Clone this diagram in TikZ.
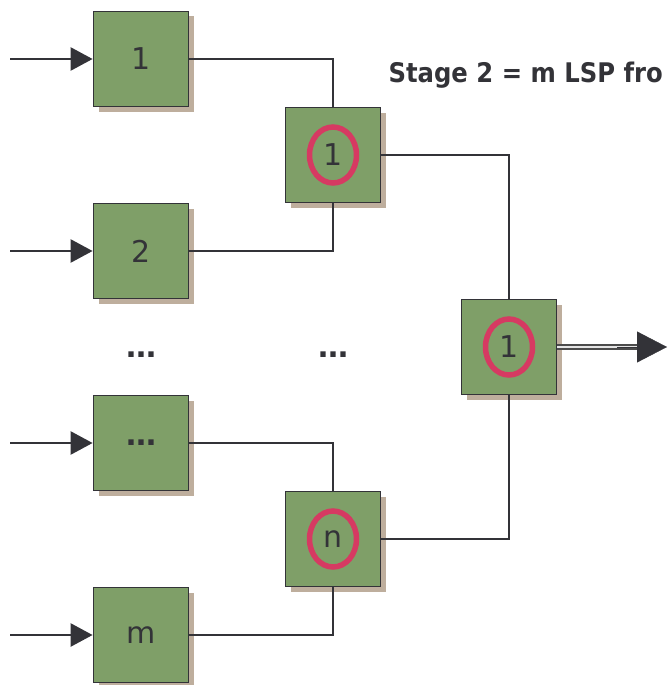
\documentclass[tikz,border=0pt]{standalone}
\usepackage{fontspec}
\setmainfont{DejaVu Sans}
\newfontfamily\titlefont[FakeStretch=0.9]{DejaVu Sans}
\usetikzlibrary{arrows.meta,shapes.geometric,shadows}
\definecolor{boxGreen}{RGB}{127,159,104}
\definecolor{shadowTan}{RGB}{190,174,157}
\definecolor{lineGray}{RGB}{51,51,56}
\definecolor{ringRed}{RGB}{214,58,98}
\tikzset{
  lsp/.style={draw=lineGray,line width=1.8pt,fill=boxGreen,minimum size=95pt,inner sep=0pt,
    text=lineGray,font=\fontsize{30pt}{32pt}\selectfont,
    drop shadow={shadow xshift=5pt,shadow yshift=-5pt,fill=shadowTan,opacity=1}},
  ring/.style={ellipse,draw=ringRed,line width=5.5pt,minimum width=47pt,minimum height=56pt,
    inner sep=0pt,text=lineGray,font=\fontsize{30pt}{32pt}\selectfont},
  wire/.style={draw=lineGray,line width=1.5pt},
  feed/.style={draw=lineGray,line width=2.6pt,-{Triangle[length=22pt,width=23pt]}},
  gap/.style={text=lineGray,font=\bfseries\fontsize{30pt}{32pt}\selectfont}
}
\begin{document}
\begin{tikzpicture}[x=1pt,y=-1pt]
  \useasboundingbox (0,0) rectangle (667,685);
  % stage 1
  \node[lsp] (in1) at (141,59) {1};
  \node[lsp] (in2) at (141,251) {2};
  \node[lsp] (in3) at (141,443) {\bfseries …};
  \node[lsp] (in4) at (141,635) {m};
  \foreach \i/\y in {1/59,2/251,3/443,4/635} {
    \coordinate (src\i) at (10,\y);
    \draw[feed] (src\i) -- (in\i.west);
  }
  % stage 2
  \node[lsp] (mid1) at (333,155) {};
  \node[lsp] (midn) at (333,539) {};
  \node[lsp] (last) at (509,347) {};
  \node[ring] (ring1) at (mid1) {1};
  \node[ring] (ringn) at (midn) {n};
  \node[ring] (ringl) at (last) {1};
  \node[gap] (gapl) at (141,355) {…};
  \node[gap] (gapm) at (333,355) {…};
  \draw[wire] (in1.east) -| (mid1.north);
  \draw[wire] (in2.east) -| (mid1.south);
  \draw[wire] (in3.east) -| (midn.north);
  \draw[wire] (in4.east) -| (midn.south);
  \draw[wire] (mid1.east) -| (last.north);
  \draw[wire] (midn.east) -| (last.south);
  % output
  \coordinate (sink) at (667,347);
  \draw[draw=gray!60!black,line width=1.8pt,double=gray!20,double distance=2.4pt,shorten >=28pt] (last.east) -- (sink);
  \draw[lineGray,line width=0.4pt,-{Triangle[length=30pt,width=31pt]},shorten <=60pt] (last.east) -- (sink);
  \node[anchor=base west,text=lineGray,font=\titlefont\bfseries\fontsize{27pt}{29pt}\selectfont] (stage) at (385,82) {Stage 2 = m LSP fro};
\end{tikzpicture}
\end{document}
